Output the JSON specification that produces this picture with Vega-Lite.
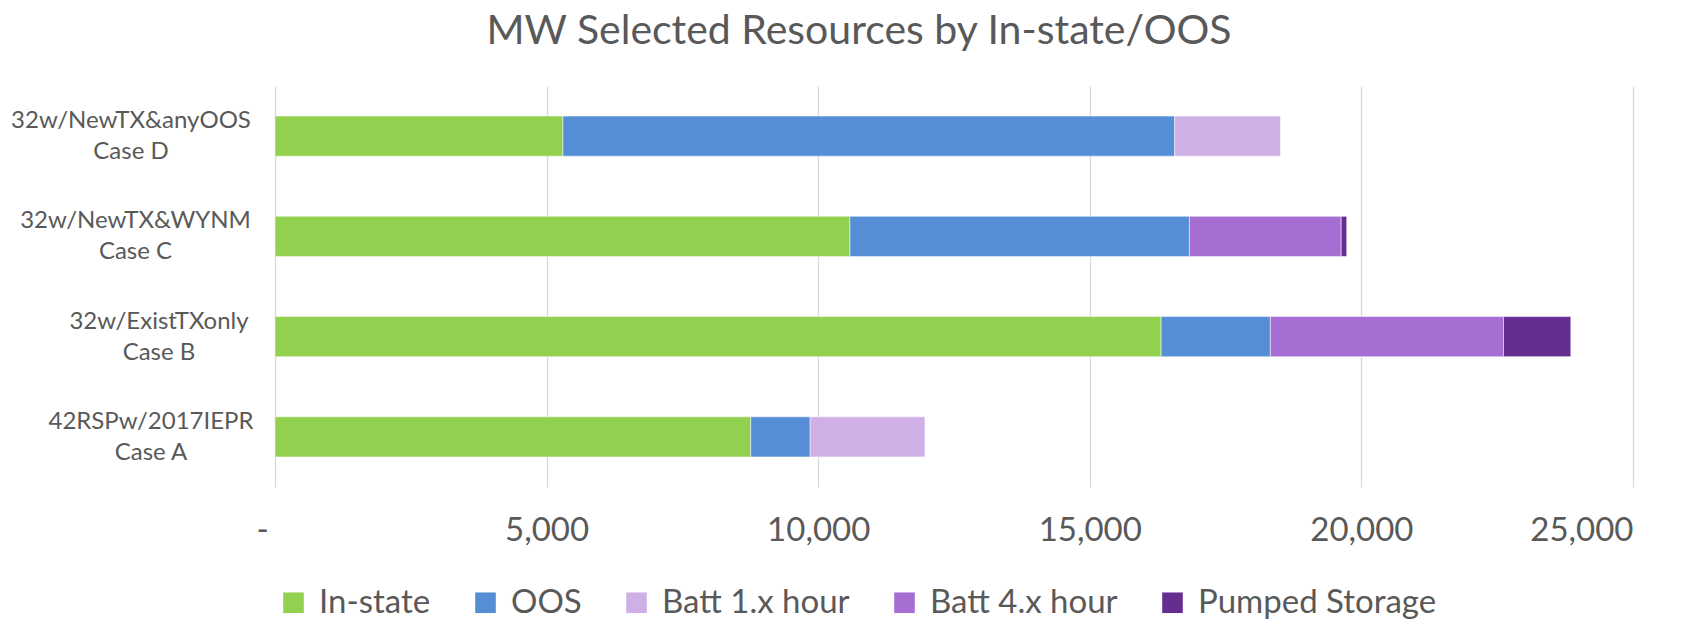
{
  "$schema": "https://vega.github.io/schema/vega-lite/v6.json",
  "autosize": {"type": "none"},
  "padding": {"left": 275, "top": 86, "right": 61, "bottom": 134},
  "width": 1358,
  "height": 401,
  "background": "white",
  "title": {
    "text": "MW Selected Resources by In-state/OOS",
    "font": "Lato",
    "fontSize": 41,
    "fontWeight": "normal",
    "color": "#595959",
    "anchor": "middle",
    "frame": "group",
    "dx": -95,
    "baseline": "alphabetic",
    "offset": 1
  },
  "data": {
    "values": [
      {"case": "D", "label": "32w/NewTX&anyOOS|Case D", "type": "In-state", "k": 1, "mw": 5300},
      {"case": "D", "label": "32w/NewTX&anyOOS|Case D", "type": "OOS", "k": 2, "mw": 11264},
      {"case": "D", "label": "32w/NewTX&anyOOS|Case D", "type": "Batt 1.x hour", "k": 3, "mw": 1946},
      {"case": "C", "label": "32w/NewTX&WYNM|Case C", "type": "In-state", "k": 1, "mw": 10584},
      {"case": "C", "label": "32w/NewTX&WYNM|Case C", "type": "OOS", "k": 2, "mw": 6250},
      {"case": "C", "label": "32w/NewTX&WYNM|Case C", "type": "Batt 4.x hour", "k": 4, "mw": 2794},
      {"case": "C", "label": "32w/NewTX&WYNM|Case C", "type": "Pumped Storage", "k": 5, "mw": 102},
      {"case": "B", "label": "32w/ExistTXonly|Case B", "type": "In-state", "k": 1, "mw": 16313},
      {"case": "B", "label": "32w/ExistTXonly|Case B", "type": "OOS", "k": 2, "mw": 2011},
      {"case": "B", "label": "32w/ExistTXonly|Case B", "type": "Batt 4.x hour", "k": 4, "mw": 4292},
      {"case": "B", "label": "32w/ExistTXonly|Case B", "type": "Pumped Storage", "k": 5, "mw": 1239},
      {"case": "A", "label": "42RSPw/2017IEPR|Case A", "type": "In-state", "k": 1, "mw": 8758},
      {"case": "A", "label": "42RSPw/2017IEPR|Case A", "type": "OOS", "k": 2, "mw": 1094},
      {"case": "A", "label": "42RSPw/2017IEPR|Case A", "type": "Batt 1.x hour", "k": 3, "mw": 2113}
    ]
  },
  "mark": {"type": "bar", "stroke": "#ffffff", "strokeWidth": 1, "strokeOpacity": 0.5},
  "encoding": {
    "y": {
      "field": "label",
      "type": "nominal",
      "sort": ["32w/NewTX&anyOOS|Case D", "32w/NewTX&WYNM|Case C", "32w/ExistTXonly|Case B", "42RSPw/2017IEPR|Case A"],
      "scale": {"paddingInner": 0.6, "paddingOuter": 0.3},
      "axis": {
        "title": null,
        "domain": false,
        "ticks": false,
        "grid": false,
        "labelExpr": "split(datum.label, '|')",
        "labelFont": "Lato",
        "labelFontSize": 24,
        "labelColor": "#595959",
        "labelAlign": "center",
        "labelBaseline": "middle",
        "labelLineHeight": 31,
        "labelOffset": -15,
        "labelLimit": 400,
        "labelPadding": {
          "condition": [
            {"test": "indexof(datum.value, 'Case D') >= 0", "value": 144.5},
            {"test": "indexof(datum.value, 'Case C') >= 0", "value": 140},
            {"test": "indexof(datum.value, 'Case B') >= 0", "value": 116.5}
          ],
          "value": 124.5
        }
      }
    },
    "x": {
      "field": "mw",
      "type": "quantitative",
      "stack": "zero",
      "scale": {"domain": [0, 25000], "nice": false},
      "axis": {
        "title": null,
        "values": [0, 5000, 10000, 15000, 20000, 25000],
        "labelExpr": "datum.value === 0 ? '-' : format(datum.value, ',')",
        "labelFont": "Lato",
        "labelFontSize": 33,
        "labelColor": "#595959",
        "labelPadding": 27,
        "labelOffset": {"condition": {"test": "datum.value === 0", "value": -19}, "value": 0},
        "domain": false,
        "ticks": false,
        "grid": true,
        "gridColor": "#D9D9D9",
        "gridWidth": 1.3
      }
    },
    "color": {
      "field": "type",
      "type": "nominal",
      "scale": {
        "domain": ["In-state", "OOS", "Batt 1.x hour", "Batt 4.x hour", "Pumped Storage"],
        "range": ["#92D050", "#558ED5", "#CFB0E6", "#A66DD2", "#662D91"]
      },
      "legend": {
        "title": null,
        "orient": "none",
        "direction": "horizontal",
        "legendX": 2,
        "legendY": 500,
        "padding": 0,
        "symbolType": "square",
        "symbolSize": 424,
        "symbolStrokeWidth": 0,
        "symbolOffset": 0,
        "labelFont": "Lato",
        "labelFontSize": 33,
        "labelColor": "#595959",
        "labelOffset": 9,
        "columnPadding": 38,
        "labelLimit": 400
      }
    },
    "order": {"field": "k", "type": "quantitative"}
  },
  "config": {
    "view": {"stroke": null}
  }
}
